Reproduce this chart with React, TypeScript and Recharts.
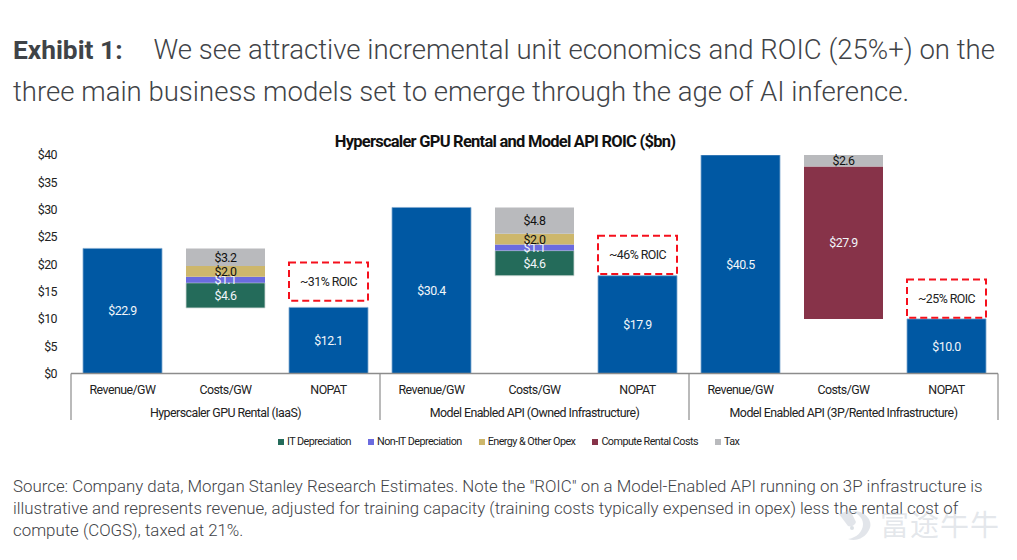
import React from "react";
import { Bar, BarChart, LabelList, Legend, XAxis, YAxis } from "recharts";

const categories = ["Revenue/GW", "Costs/GW", "NOPAT", "Revenue/GW", "Costs/GW", "NOPAT", "Revenue/GW", "Costs/GW", "NOPAT"];
const groups = ["Hyperscaler GPU Rental (IaaS)", "Model Enabled API (Owned Infrastructure)", "Model Enabled API (3P/Rented Infrastructure)"];
const yTicks = [0, 5, 10, 15, 20, 25, 30, 35, 40];
const legendOrder = ["IT Depreciation", "Non-IT Depreciation", "Energy & Other Opex", "Compute Rental Costs", "Tax"];

const totals = [22.9, null, 12.1, 30.4, null, 17.9, 40.5, null, 10.0];
const costBase = [null, 12.0, null, null, 17.9, null, null, 10.0, null];
const itDep = [null, 4.6, null, null, 4.6, null, null, null, null];
const nonItDep = [null, 1.1, null, null, 1.1, null, null, null, null];
const energy = [null, 2.0, null, null, 2.0, null, null, null, null];
const rental = [null, null, null, null, null, null, null, 27.9, null];
const tax = [null, 3.2, null, null, 4.8, null, null, 2.6, null];

// ROIC callouts sit on top of the NOPAT bars
const roicGap = [null, null, 1.2, null, null, 0.3, null, null, 0.2];
const roicBox = [null, null, 7, null, null, 7, null, null, 7];
const roicText = [null, null, "~31% ROIC", null, null, "~46% ROIC", null, null, "~25% ROIC"];

const rows = categories.map((name, i) => ({
  id: i,
  name,
  totals: totals[i],
  costBase: costBase[i],
  itDep: itDep[i],
  nonItDep: nonItDep[i],
  energy: energy[i],
  rental: rental[i],
  tax: tax[i],
  roicGap: roicGap[i],
  roicBox: roicBox[i],
  roicText: roicText[i],
}));

const BODY = "Roboto, sans-serif";
const AXIS = "#8c8c8c";
const BAND = 103;
const TIGHT = -0.55;
const FS = 12.4;

const money = (v: unknown) => (v == null ? "" : `$${Number(v).toFixed(1)}`);

function TwoLevelTick({ x, index, payload }: any) {
  const i = index ?? payload?.index ?? 0;
  const top = 373.5;
  return (
    <g>
      <text x={x} y={top + 20} textAnchor="middle" fontSize={FS} fontFamily={BODY} fill="#222" letterSpacing={TIGHT}>
        {categories[i]}
      </text>
      {i % 3 === 1 && (
        <text x={x} y={top + 43} textAnchor="middle" fontSize={FS} fontFamily={BODY} fill="#222" letterSpacing={TIGHT}>
          {groups[(i - 1) / 3]}
        </text>
      )}
      {i % 3 === 0 && <line x1={x - BAND / 2} x2={x - BAND / 2} y1={top} y2={420} stroke={AXIS} strokeWidth={1.2} />}
      {i === 8 && <line x1={x + BAND / 2} x2={x + BAND / 2} y1={top} y2={420} stroke={AXIS} strokeWidth={1.2} />}
    </g>
  );
}

// plain text so the callout never wraps inside the box
function RoicLabel({ viewBox, value }: any) {
  if (value == null || !viewBox) return null;
  return (
    <text
      x={viewBox.x + viewBox.width / 2}
      y={viewBox.y + viewBox.height / 2 + 4}
      textAnchor="middle"
      fontSize={FS}
      fontFamily={BODY}
      fill="#222"
      letterSpacing={TIGHT}
    >
      {value}
    </text>
  );
}

function LegendRow({ payload }: any) {
  const items = legendOrder.map((n) => (payload ?? []).find((p: any) => p.value === n)).filter(Boolean);
  return (
    <div style={{ display: "flex", gap: 17, fontFamily: BODY, fontSize: 10.8, letterSpacing: -0.55, lineHeight: "16px", color: "#222", whiteSpace: "nowrap" }}>
      {items.map((p: any) => (
        <span key={p.value} style={{ display: "flex", alignItems: "center", gap: 3 }}>
          <span style={{ width: 6, height: 6, background: p.color, display: "inline-block" }} />
          {p.value}
        </span>
      ))}
    </div>
  );
}

function stacked(key: string, name: string, color: string, labelColor: string, edge?: string) {
  return (
    <Bar key={key} dataKey={key} name={name} stackId="a" fill={color} stroke={edge} strokeWidth={0.8} isAnimationActive={false}>
      <LabelList dataKey={key} position="center" formatter={money} fill={labelColor} fontSize={FS} fontFamily={BODY} letterSpacing={TIGHT} />
    </Bar>
  );
}

export default function App() {
  return (
    <div style={{ position: "absolute", left: 0, top: 0, width: 1017, height: 560, background: "#fff", overflow: "hidden" }}>
      <div style={{ position: "absolute", left: 13, top: 29, width: 1000, fontFamily: BODY, fontWeight: 300, fontSize: 27.55, lineHeight: "42px", color: "#3f4347", whiteSpace: "nowrap" }}>
        <b style={{ fontWeight: 700, fontSize: 26.3, marginRight: 31 }}>Exhibit 1:</b>We see attractive incremental unit economics and ROIC (25%+) on the
        <br />
        three main business models set to emerge through the age of AI inference.
      </div>
      <div style={{ position: "absolute", left: 0, width: 1010, top: 132, textAlign: "center", fontFamily: BODY, fontWeight: 700, fontSize: 16.5, letterSpacing: -0.75, color: "#111" }}>
        Hyperscaler GPU Rental and Model API ROIC ($bn)
      </div>

      <div style={{ position: "absolute", left: 0, top: 0 }}>
        <BarChart
          width={1017}
          height={560}
          data={rows}
          barSize={79}
          margin={{ top: 139, right: 19, bottom: 0, left: 0 }}
        >
          <XAxis
            dataKey="id"
            type="category"
            interval={0}
            height={186.5}
            tick={<TwoLevelTick />}
            tickLine={false}
            axisLine={{ stroke: AXIS, strokeWidth: 1.5 }}
          />
          <YAxis
            width={71}
            domain={[0, 40]}
            ticks={yTicks}
            allowDataOverflow
            tickFormatter={(v) => `$${v}`}
            tick={{ fill: "#222", fontSize: FS, fontFamily: BODY, letterSpacing: TIGHT }}
            tickLine={false}
            axisLine={false}
            tickMargin={8}
          />
          <Legend
            verticalAlign="top"
            align="left"
            content={<LegendRow />}
            wrapperStyle={{ position: "absolute", left: 278, top: 434, width: 490, height: 16 }}
          />
          <Bar dataKey="totals" stackId="a" fill="#0058a3" stroke="#7fa8cf" strokeWidth={0.8} legendType="none" isAnimationActive={false}>
            <LabelList dataKey="totals" position="center" formatter={money} fill="#f2f6fa" fontSize={FS} fontFamily={BODY} letterSpacing={TIGHT} />
          </Bar>
          <Bar dataKey="costBase" stackId="a" fill="none" legendType="none" isAnimationActive={false} />
          {stacked("itDep", "IT Depreciation", "#246b5a", "#f2f6fa", "#cfd8d5")}
          {stacked("nonItDep", "Non-IT Depreciation", "#6b6bdf", "#f2f6fa")}
          {stacked("energy", "Energy & Other Opex", "#cdb76c", "#111")}
          {stacked("rental", "Compute Rental Costs", "#873349", "#f2f6fa")}
          {stacked("tax", "Tax", "#b9babd", "#111")}
          <Bar dataKey="roicGap" stackId="a" fill="none" legendType="none" isAnimationActive={false} />
          <Bar dataKey="roicBox" stackId="a" fill="none" stroke="#f5101c" strokeWidth={2} strokeDasharray="7 4" legendType="none" isAnimationActive={false}>
            <LabelList dataKey="roicText" content={<RoicLabel />} />
          </Bar>
        </BarChart>
      </div>

      <div style={{ position: "absolute", left: 13, top: 475, width: 1000, fontFamily: BODY, fontWeight: 300, fontSize: 16.85, lineHeight: "22px", color: "#3f4347", whiteSpace: "nowrap" }}>
        Source: Company data, Morgan Stanley Research Estimates. Note the "ROIC" on a Model-Enabled API running on 3P infrastructure is
        <br />
        illustrative and represents revenue, adjusted for training capacity (training costs typically expensed in opex) less the rental cost of
        <br />
        compute (COGS), taxed at 21%.
      </div>
      <div style={{ position: "absolute", left: 880, top: 505, fontFamily: '"Noto Sans CJK SC"', fontSize: 29, lineHeight: "36px", letterSpacing: 1, color: "rgba(190,198,208,0.42)", whiteSpace: "nowrap" }}>
        富途牛牛
      </div>
      <svg style={{ position: "absolute", left: 836, top: 508 }} width={40} height={36}>
        <path d="M3 6 L14 2 L20 14 A6 6 0 0 1 12 18 Z" fill="rgba(190,198,208,0.45)" />
        <path d="M16 3 C30 2 38 14 33 22 C29 30 20 34 12 31 C20 30 27 24 27 16 C27 10 22 6 16 3 Z" fill="rgba(190,198,208,0.45)" />
        <circle cx={16} cy={20} r={2} fill="rgba(190,198,208,0.55)" />
      </svg>
    </div>
  );
}
